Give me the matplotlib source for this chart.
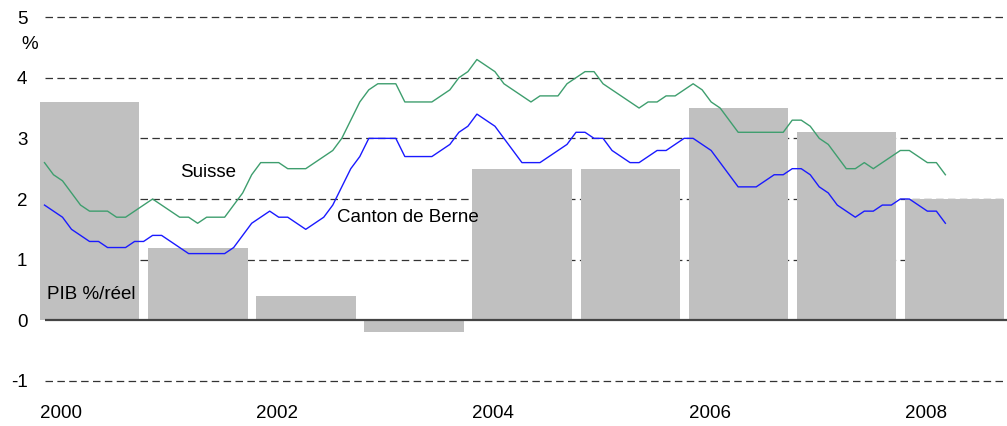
import numpy as np
import matplotlib
matplotlib.use("Agg")
import matplotlib.pyplot as plt

plt.rcParams['font.family'] = ['Liberation Sans', 'DejaVu Sans']

# annual GDP growth (bars)
years = [2000, 2001, 2002, 2003, 2004, 2005, 2006, 2007, 2008]
pib = [3.6, 1.2, 0.4, -0.2, 2.5, 2.5, 3.5, 3.1, 2.0]

# monthly series, Jan 2000 - May 2008
suisse = [2.6, 2.4, 2.3, 2.1, 1.9, 1.8, 1.8, 1.8, 1.7, 1.7, 1.8, 1.9,
          2.0, 1.9, 1.8, 1.7, 1.7, 1.6, 1.7, 1.7, 1.7, 1.9, 2.1, 2.4,
          2.6, 2.6, 2.6, 2.5, 2.5, 2.5, 2.6, 2.7, 2.8, 3.0, 3.3, 3.6,
          3.8, 3.9, 3.9, 3.9, 3.6, 3.6, 3.6, 3.6, 3.7, 3.8, 4.0, 4.1,
          4.3, 4.2, 4.1, 3.9, 3.8, 3.7, 3.6, 3.7, 3.7, 3.7, 3.9, 4.0,
          4.1, 4.1, 3.9, 3.8, 3.7, 3.6, 3.5, 3.6, 3.6, 3.7, 3.7, 3.8,
          3.9, 3.8, 3.6, 3.5, 3.3, 3.1, 3.1, 3.1, 3.1, 3.1, 3.1, 3.3,
          3.3, 3.2, 3.0, 2.9, 2.7, 2.5, 2.5, 2.6, 2.5, 2.6, 2.7, 2.8,
          2.8, 2.7, 2.6, 2.6, 2.4]
berne = [1.9, 1.8, 1.7, 1.5, 1.4, 1.3, 1.3, 1.2, 1.2, 1.2, 1.3, 1.3,
         1.4, 1.4, 1.3, 1.2, 1.1, 1.1, 1.1, 1.1, 1.1, 1.2, 1.4, 1.6,
         1.7, 1.8, 1.7, 1.7, 1.6, 1.5, 1.6, 1.7, 1.9, 2.2, 2.5, 2.7,
         3.0, 3.0, 3.0, 3.0, 2.7, 2.7, 2.7, 2.7, 2.8, 2.9, 3.1, 3.2,
         3.4, 3.3, 3.2, 3.0, 2.8, 2.6, 2.6, 2.6, 2.7, 2.8, 2.9, 3.1,
         3.1, 3.0, 3.0, 2.8, 2.7, 2.6, 2.6, 2.7, 2.8, 2.8, 2.9, 3.0,
         3.0, 2.9, 2.8, 2.6, 2.4, 2.2, 2.2, 2.2, 2.3, 2.4, 2.4, 2.5,
         2.5, 2.4, 2.2, 2.1, 1.9, 1.8, 1.7, 1.8, 1.8, 1.9, 1.9, 2.0,
         2.0, 1.9, 1.8, 1.8, 1.6]

yticks = [-1, 0, 1, 2, 3, 4, 5]
xticks = [2000, 2002, 2004, 2006, 2008]

months = 2000 + (np.arange(len(suisse)) + 0.5) / 12.0

fig = plt.figure(figsize=(10.07, 4.26), dpi=100)
ax = fig.add_axes([0.0397, 0.0986, 0.9603, 0.8685])

x0, x1 = 2000.0, 2008.945
ax.set_xlim(x0, x1)
ax.set_ylim(-1.05, 5.05)

# dashed grid behind the bars
for v in yticks:
    if v != 0:
        ax.hlines(v, 2000.046, x1, colors='#333333', lw=0.9,
                  linestyles=(0, (6, 3.5)), zorder=0)

ax.bar(years, pib, width=0.92, align='edge', color='#c0c0c0', zorder=1)
ax.hlines(0, 2000.046, x1, colors='#444444', lw=1.6, zorder=2)

ax.plot(months, suisse, color='#3e9e6e', lw=1.0, zorder=3)
ax.plot(months, berne, color='#1a1aff', lw=1.0, zorder=3)

fs = 13.5
ax.text(2001.295, 2.44, 'Suisse', fontsize=fs, va='center', ha='left')
ax.text(2002.747, 1.70, 'Canton de Berne', fontsize=fs, va='center', ha='left')
ax.text(2000.065, 0.43, 'PIB %/réel', fontsize=fs, va='center', ha='left')
ax.text(-0.011, 4.55, '%', fontsize=fs, va='center', ha='center',
        transform=ax.get_yaxis_transform())

ax.set_yticks(yticks)
ax.set_yticklabels([str(v) for v in yticks])
ax.set_xticks(xticks)
ax.set_xticklabels([str(v) for v in xticks])
for lab in ax.get_xticklabels():
    lab.set_horizontalalignment('left')
ax.tick_params(axis='both', length=0, labelsize=fs)
ax.tick_params(axis='y', pad=9)
ax.tick_params(axis='x', pad=15)
for s in ax.spines.values():
    s.set_visible(False)

fig.savefig('out.png', dpi=100)
